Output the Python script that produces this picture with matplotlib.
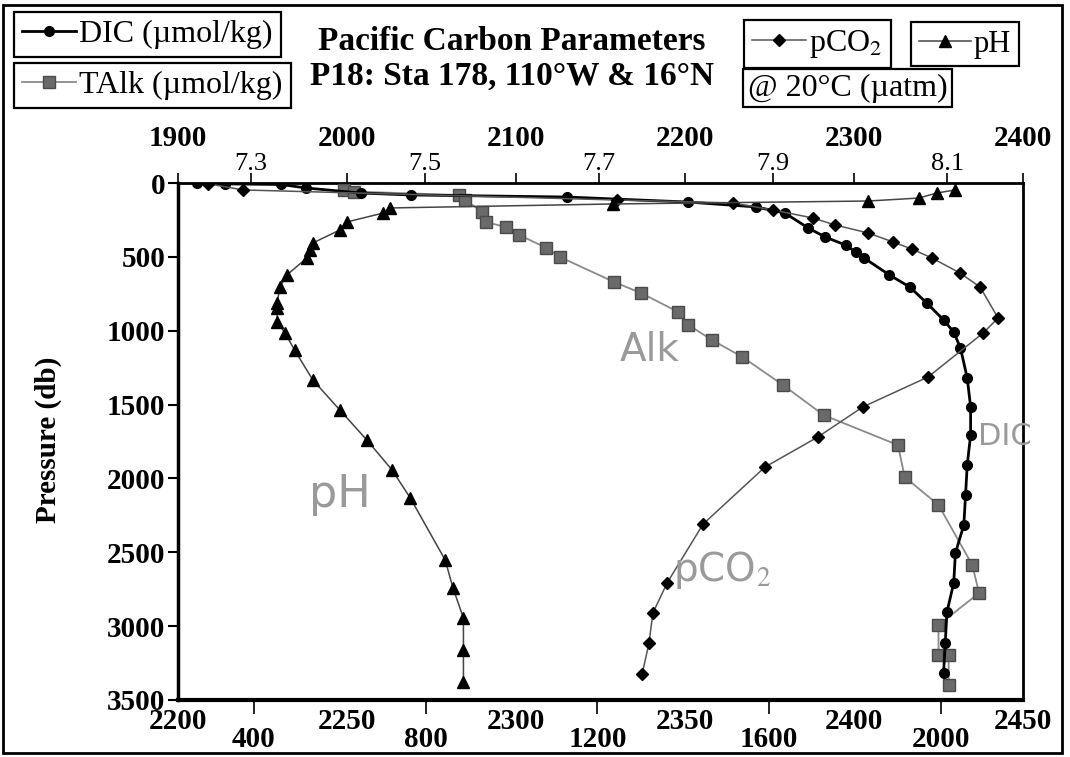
import numpy as np
import matplotlib
matplotlib.use('Agg')
import matplotlib.pyplot as plt
from matplotlib.lines import Line2D
from matplotlib.patches import Rectangle

plt.rcParams['font.family'] = ['Liberation Serif', 'DejaVu Serif']
plt.rcParams['mathtext.fontset'] = 'stix'

# pressure (db) and values
dic_p = [2, 6, 10, 34, 68, 81, 95, 129, 162, 203, 305, 366, 420, 467, 508, 623, 704,
         812, 927, 1009, 1117, 1320, 1516, 1706, 1909, 2112, 2315, 2505, 2708, 2904,
         3114, 3317]
dic = [1911, 1928, 1961, 1976, 2008, 2038, 2130, 2202, 2242, 2259, 2273, 2283, 2295,
       2301, 2306, 2321, 2333, 2343, 2353, 2359, 2363, 2367, 2369, 2369, 2367, 2366,
       2365, 2360, 2359, 2355, 2354, 2353]

talk_p = [50, 58, 81, 115, 196, 264, 298, 352, 440, 501, 670, 745, 873, 961, 1063, 1178,
          1368, 1571, 1774, 1990, 2180, 2586, 2776, 2992, 3195, 3195, 3398]
talk = [2249, 2252, 2283, 2285, 2290, 2291, 2297, 2301, 2309, 2313, 2329, 2337, 2348,
        2351, 2358, 2367, 2379, 2391, 2413, 2415, 2425, 2435, 2437, 2425, 2425, 2428, 2428]

pco2_p = [5, 47, 115, 135, 183, 237, 284, 338, 399, 447, 508, 609, 704, 914, 1016, 1313,
          1516, 1720, 1923, 2309, 2708, 2911, 3114, 3324]
pco2 = [293, 374, 1245, 1515, 1609, 1702, 1753, 1830, 1888, 1932, 1979, 2044, 2091, 2133,
        2098, 1970, 1818, 1713, 1590, 1446, 1362, 1329, 1320, 1304]

ph_p = [47, 68, 102, 122, 142, 169, 203, 264, 318, 406, 453, 508, 623, 704, 812, 846, 941,
        1016, 1131, 1334, 1537, 1740, 1943, 2133, 2552, 2742, 2945, 3162, 3378]
ph = [8.109, 8.088, 8.067, 8.009, 7.716, 7.460, 7.452, 7.410, 7.402, 7.371, 7.368, 7.364,
      7.341, 7.333, 7.330, 7.330, 7.330, 7.339, 7.350, 7.371, 7.402, 7.433, 7.462, 7.483,
      7.523, 7.532, 7.544, 7.544, 7.544]

p_ticks = [0, 500, 1000, 1500, 2000, 2500, 3000, 3500]
talk_ticks = [2200, 2250, 2300, 2350, 2400, 2450]
dic_ticks = [1900, 2000, 2100, 2200, 2300, 2400]
pco2_ticks = [400, 800, 1200, 1600, 2000]
ph_ticks = [7.3, 7.5, 7.7, 7.9, 8.1]
ph_labels = ['7.3', '7.5', '7.7', '7.9', '8.1']

W, H = 1070, 757
fig = plt.figure(figsize=(W / 100, H / 100), dpi=100)
ax = fig.add_axes([178 / W, 1 - 700 / H, 845 / W, 517 / H])

# TAlk - bottom axis
ax.plot(talk, talk_p, color='#8a8a8a', lw=1.3, marker='s', ms=9,
        mfc='#6a6a6a', mec='#4a4a4a', zorder=3)
ax.set_xlim(2200, 2450)
ax.set_ylim(3500, 0)
ax.set_xticks(talk_ticks)
ax.set_xticklabels([str(t) for t in talk_ticks], fontweight='bold')
ax.tick_params(axis='x', bottom=True, top=False, length=0, labelsize=21, pad=6)
ax.set_yticks(p_ticks)
ax.set_yticklabels([str(t) for t in p_ticks], fontweight='bold')
ax.tick_params(axis='y', direction='out', length=7, width=1.5, labelsize=21, pad=2)
for s in ax.spines.values():
    s.set_linewidth(2)
ax.spines['bottom'].set_linewidth(3)
ax.spines['left'].set_linewidth(2.5)
ax.set_ylabel('Pressure (db)', fontsize=21, fontweight='bold')
ax.yaxis.set_label_coords((62 - 178) / 845, (700 - 440) / 517)

# DIC - top axis
ax_dic = ax.twiny()
ax_dic.plot(dic, dic_p, color='black', lw=2, marker='o', ms=7, zorder=4)
ax_dic.set_xlim(1900, 2400)
ax_dic.set_xticks(dic_ticks)
ax_dic.set_xticklabels([str(t) for t in dic_ticks], fontweight='bold')
ax_dic.tick_params(axis='x', top=True, bottom=False, direction='out', length=7,
                   width=1.2, labelsize=21, pad=15)

# pCO2 - second bottom axis
ax_pco2 = ax.twiny()
ax_pco2.plot(pco2, pco2_p, color='#555555', lw=1.1, marker='D', ms=6.5,
             mfc='black', mec='black', zorder=4)
ax_pco2.set_xlim(223, 2191)
ax_pco2.xaxis.set_ticks_position('bottom')
ax_pco2.xaxis.set_label_position('bottom')
ax_pco2.set_xticks(pco2_ticks)
ax_pco2.set_xticklabels([str(t) for t in pco2_ticks], fontweight='bold')
ax_pco2.tick_params(axis='x', bottom=True, top=False, direction='out', length=10,
                    width=1.2, labelsize=21, pad=9)

# pH - second top axis
ax_ph = ax.twiny()
ax_ph.plot(ph, ph_p, color='#444444', lw=1.1, marker='^', ms=8,
           mfc='black', mec='black', zorder=4)
ax_ph.set_xlim(7.216, 8.187)
ax_ph.set_xticks(ph_ticks)
ax_ph.set_xticklabels(ph_labels)
ax_ph.tick_params(axis='x', top=True, bottom=False, direction='out', length=7,
                  width=1.2, labelsize=19, pad=-1)

for a in (ax_dic, ax_pco2, ax_ph):
    for s in a.spines.values():
        s.set_visible(False)

# titles
fig.text(512 / W, 1 - 41 / H, 'Pacific Carbon Parameters', ha='center', va='center',
         fontsize=24, fontweight='bold')
fig.text(512 / W, 1 - 76 / H, 'P18: Sta 178, 110°W & 16°N', ha='center', va='center',
         fontsize=24, fontweight='bold')

# legends
def box_legend(handle, label, x, y, fs=23):
    leg = fig.legend(handles=[handle], labels=[label], loc='upper left',
                     bbox_to_anchor=(x / W, 1 - y / H), bbox_transform=fig.transFigure,
                     frameon=True, fancybox=False, edgecolor='black', framealpha=1,
                     fontsize=fs, handlelength=1.7, handletextpad=0.1, borderpad=0.25,
                     borderaxespad=0)
    leg.get_frame().set_linewidth(1.6)
    return leg

box_legend(Line2D([], [], color='black', lw=2, marker='o', ms=7), 'DIC (µmol/kg)', 14, 12)
box_legend(Line2D([], [], color='#8a8a8a', lw=1.3, marker='s', ms=9, mfc='#6a6a6a',
                  mec='#4a4a4a'), 'TAlk (µmol/kg)', 14, 63)
box_legend(Line2D([], [], color='#555555', lw=1.1, marker='D', ms=6.5, mfc='black',
                  mec='black'), 'pCO$_2$', 744, 20)
box_legend(Line2D([], [], color='#444444', lw=1.1, marker='^', ms=8, mfc='black',
                  mec='black'), 'pH', 911, 22, fs=22)
fig.text(748 / W, 1 - 88 / H, '@ 20°C (µatm)', ha='left', va='center', fontsize=23,
         bbox=dict(boxstyle='square,pad=0.15', fc='white', ec='black', lw=1.6))

# handwritten notes
fig.text(650 / W, 1 - 350 / H, 'Alk', ha='center', va='center', color='#9a9a9a',
         fontsize=28, family='DejaVu Sans')
fig.text(1005 / W, 1 - 436 / H, 'DIC', ha='center', va='center', fontsize=22,
         color='#9a9a9a', family='DejaVu Sans')
fig.text(340 / W, 1 - 495 / H, 'pH', ha='center', va='center', color='#9a9a9a',
         fontsize=32, family='DejaVu Sans')
fig.text(722 / W, 1 - 570 / H, 'pCO$_2$', ha='center', va='center', color='#9a9a9a',
         fontsize=28, family='DejaVu Sans')

# outer frame
fig.patches.append(Rectangle((3 / W, 4 / H), 1059 / W, 748 / H, transform=fig.transFigure,
                             fill=False, ec='black', lw=2))

fig.savefig('out.png', dpi=100)
